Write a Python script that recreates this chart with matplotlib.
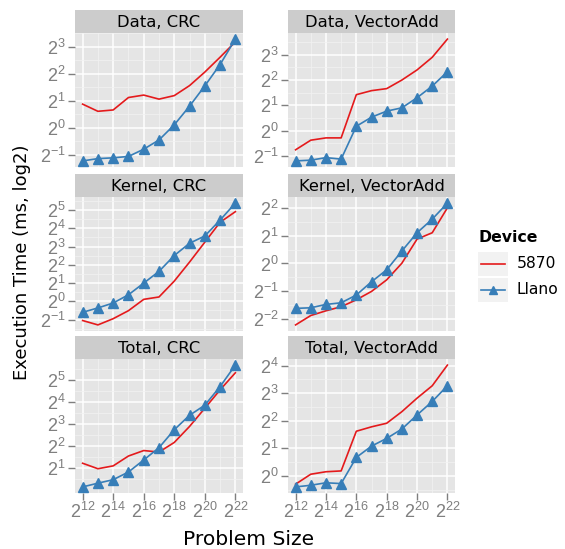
import matplotlib
matplotlib.use('Agg')
import matplotlib.pyplot as plt
from matplotlib.ticker import FixedLocator, FuncFormatter, NullFormatter
import numpy as np

plt.rcParams['font.family'] = ['Liberation Sans', 'DejaVu Sans']
plt.rcParams['mathtext.fontset'] = 'custom'
plt.rcParams['mathtext.rm'] = 'Liberation Sans'
plt.rcParams['mathtext.it'] = 'Liberation Sans:italic'
plt.rcParams['mathtext.bf'] = 'Liberation Sans:bold'
WIDE = ['DejaVu Sans']

# ---------------- data ----------------
problem_size = [4096, 8192, 16384, 32768, 65536, 131072, 262144,
                524288, 1048576, 2097152, 4194304]
devices = ["5870", "Llano"]
phases = ["Data", "Kernel", "Total"]
benchmarks = ["CRC", "VectorAdd"]

data_crc_5870 = [1.834, 1.526, 1.580, 2.173, 2.313, 2.085, 2.282, 2.948, 4.171, 6.105, 9.063]
data_crc_llano = [0.428, 0.454, 0.463, 0.480, 0.578, 0.732, 1.079, 1.741, 2.928, 5.063, 9.713]
data_va_5870 = [0.590, 0.768, 0.818, 0.818, 2.676, 2.990, 3.160, 4.000, 5.278, 7.464, 12.30]
data_va_llano = [0.435, 0.444, 0.476, 0.457, 1.125, 1.444, 1.705, 1.866, 2.462, 3.387, 5.028]
kernel_crc_5870 = [0.483, 0.409, 0.518, 0.702, 1.079, 1.181, 2.158, 4.438, 9.448, 20.11, 30.07]
kernel_crc_llano = [0.660, 0.779, 0.939, 1.283, 2.000, 3.117, 5.696, 9.063, 11.96, 21.86, 41.64]
kernel_va_5870 = [0.215, 0.272, 0.306, 0.339, 0.403, 0.497, 0.664, 1.007, 1.840, 2.158, 4.028]
kernel_va_llano = [0.325, 0.330, 0.359, 0.374, 0.454, 0.633, 0.853, 1.366, 2.158, 3.031, 4.532]
total_crc_5870 = [2.297, 1.932, 2.114, 2.888, 3.434, 3.272, 4.438, 7.362, 13.09, 23.43, 40.22]
total_crc_llano = [1.087, 1.223, 1.366, 1.741, 2.549, 3.758, 6.635, 10.48, 14.42, 25.99, 51.27]
total_va_5870 = [0.812, 1.043, 1.110, 1.133, 3.073, 3.434, 3.758, 5.028, 7.062, 9.646, 16.22]
total_va_llano = [0.758, 0.790, 0.841, 0.824, 1.591, 2.114, 2.567, 3.249, 4.627, 6.498, 9.646]

series = {
    ("Data", "CRC"): (data_crc_5870, data_crc_llano),
    ("Data", "VectorAdd"): (data_va_5870, data_va_llano),
    ("Kernel", "CRC"): (kernel_crc_5870, kernel_crc_llano),
    ("Kernel", "VectorAdd"): (kernel_va_5870, kernel_va_llano),
    ("Total", "CRC"): (total_crc_5870, total_crc_llano),
    ("Total", "VectorAdd"): (total_va_5870, total_va_llano),
}
x_tick_exps = [12, 14, 16, 18, 20, 22]
y_tick_exps = {
    ("Data", "CRC"): [-1, 0, 1, 2, 3],
    ("Data", "VectorAdd"): [-1, 0, 1, 2, 3],
    ("Kernel", "CRC"): [-1, 0, 1, 2, 3, 4, 5],
    ("Kernel", "VectorAdd"): [-2, -1, 0, 1, 2],
    ("Total", "CRC"): [1, 2, 3, 4, 5],
    ("Total", "VectorAdd"): [0, 1, 2, 3, 4],
}

# ---------------- style ----------------
W, H = 565, 549
RED = '#E41A1C'
BLUE = '#377EB8'
PANEL_BG = '#E5E5E5'
STRIP_BG = '#CCCCCC'
TICK_COL = '#7F7F7F'

fig = plt.figure(figsize=(W / 100, H / 100), dpi=100)

col_x = [75, 288]
col_w = [168, 167]
row_bottom = [167, 331, 493]
panel_h = 134
strip_h = 23


def fx(px):
    return px / W


def fy(py):
    return 1 - py / H


def pow2(v, pos=None):
    e = int(round(np.log2(v)))
    return r'$\mathregular{2^{%d}}$' % e


for r, ph in enumerate(phases):
    for c, bm in enumerate(benchmarks):
        red_vals, blue_vals = series[(ph, bm)]
        ax = fig.add_axes([fx(col_x[c]), fy(row_bottom[r]), col_w[c] / W, panel_h / H])
        ax.set_facecolor(PANEL_BG)
        ax.set_xscale('log', base=2)
        ax.set_yscale('log', base=2)
        ax.plot(problem_size, red_vals, color=RED, lw=1.2, zorder=3)
        ax.plot(problem_size, blue_vals, color=BLUE, lw=1.2, marker='^',
                markersize=7, zorder=4)
        allv = np.log2(np.array(red_vals + blue_vals))
        lo, hi = allv.min(), allv.max()
        pad = 0.05 * (hi - lo)
        ax.set_ylim(2 ** (lo - pad), 2 ** (hi + pad))
        ax.set_xlim(2 ** 11.5, 2 ** 22.5)
        yt = y_tick_exps[(ph, bm)]
        ax.yaxis.set_major_locator(FixedLocator([2.0 ** e for e in yt]))
        ax.yaxis.set_major_formatter(FuncFormatter(pow2))
        ymin_e = int(np.floor(lo - pad)) - 1
        ymax_e = int(np.ceil(hi + pad)) + 1
        ax.yaxis.set_minor_locator(FixedLocator([2.0 ** (e + 0.5) for e in range(ymin_e, ymax_e)]))
        ax.yaxis.set_minor_formatter(NullFormatter())
        ax.xaxis.set_major_locator(FixedLocator([2.0 ** e for e in x_tick_exps]))
        ax.xaxis.set_minor_locator(FixedLocator([2.0 ** e for e in [13, 15, 17, 19, 21]]))
        ax.xaxis.set_minor_formatter(NullFormatter())
        if r == 2:
            ax.xaxis.set_major_formatter(FuncFormatter(pow2))
        else:
            ax.xaxis.set_major_formatter(NullFormatter())
        ax.grid(which='major', color='white', lw=1.1)
        ax.grid(which='minor', color='#F2F2F2', lw=0.5)
        ax.set_axisbelow(True)
        for s in ax.spines.values():
            s.set_visible(False)
        ax.tick_params(which='major', length=5, width=1, color=TICK_COL,
                       labelcolor=TICK_COL, labelsize=13, pad=1.5)
        ax.tick_params(which='minor', length=0)
        if r != 2:
            ax.tick_params(axis='x', length=0)
        # strip
        sax = fig.add_axes([fx(col_x[c]), fy(row_bottom[r] - panel_h),
                            col_w[c] / W, strip_h / H])
        sax.set_facecolor(STRIP_BG)
        sax.set_xticks([])
        sax.set_yticks([])
        for s in sax.spines.values():
            s.set_visible(False)
        sax.text(0.5, 0.47, f"{ph}, {bm}", ha='center', va='center',
                 fontsize=11.8, family=WIDE, color='black', transform=sax.transAxes)

fig.text(fx(27), fy(262), "Execution Time (ms, log2)", rotation=90,
         rotation_mode='anchor', ha='center', va='baseline', fontsize=13,
         family=WIDE)
fig.text(fx(249), fy(545), "Problem Size", ha='center', va='baseline',
         fontsize=14.6, family=WIDE)

# legend
fig.text(fx(478), fy(238), "Device", ha='left', va='center', fontsize=11.3,
         fontweight='bold', family=WIDE)
key_tops = [252, 278]
for i, (lab, col) in enumerate(zip(devices, [RED, BLUE])):
    kax = fig.add_axes([fx(478), fy(key_tops[i] + 24), 30 / W, 24 / H])
    kax.set_facecolor('#F2F2F2')
    kax.set_xlim(0, 1)
    kax.set_ylim(0, 1)
    kax.set_xticks([])
    kax.set_yticks([])
    for s in kax.spines.values():
        s.set_visible(False)
    kax.plot([0.1, 0.9], [0.5, 0.5], color=col, lw=1.2)
    if i == 1:
        kax.plot([0.5], [0.5], color=col, marker='^', markersize=6)
    fig.text(fx(517), fy(key_tops[i] + 12), lab, ha='left', va='center',
             fontsize=11.2, family=WIDE)

fig.savefig('out.png', dpi=100)
